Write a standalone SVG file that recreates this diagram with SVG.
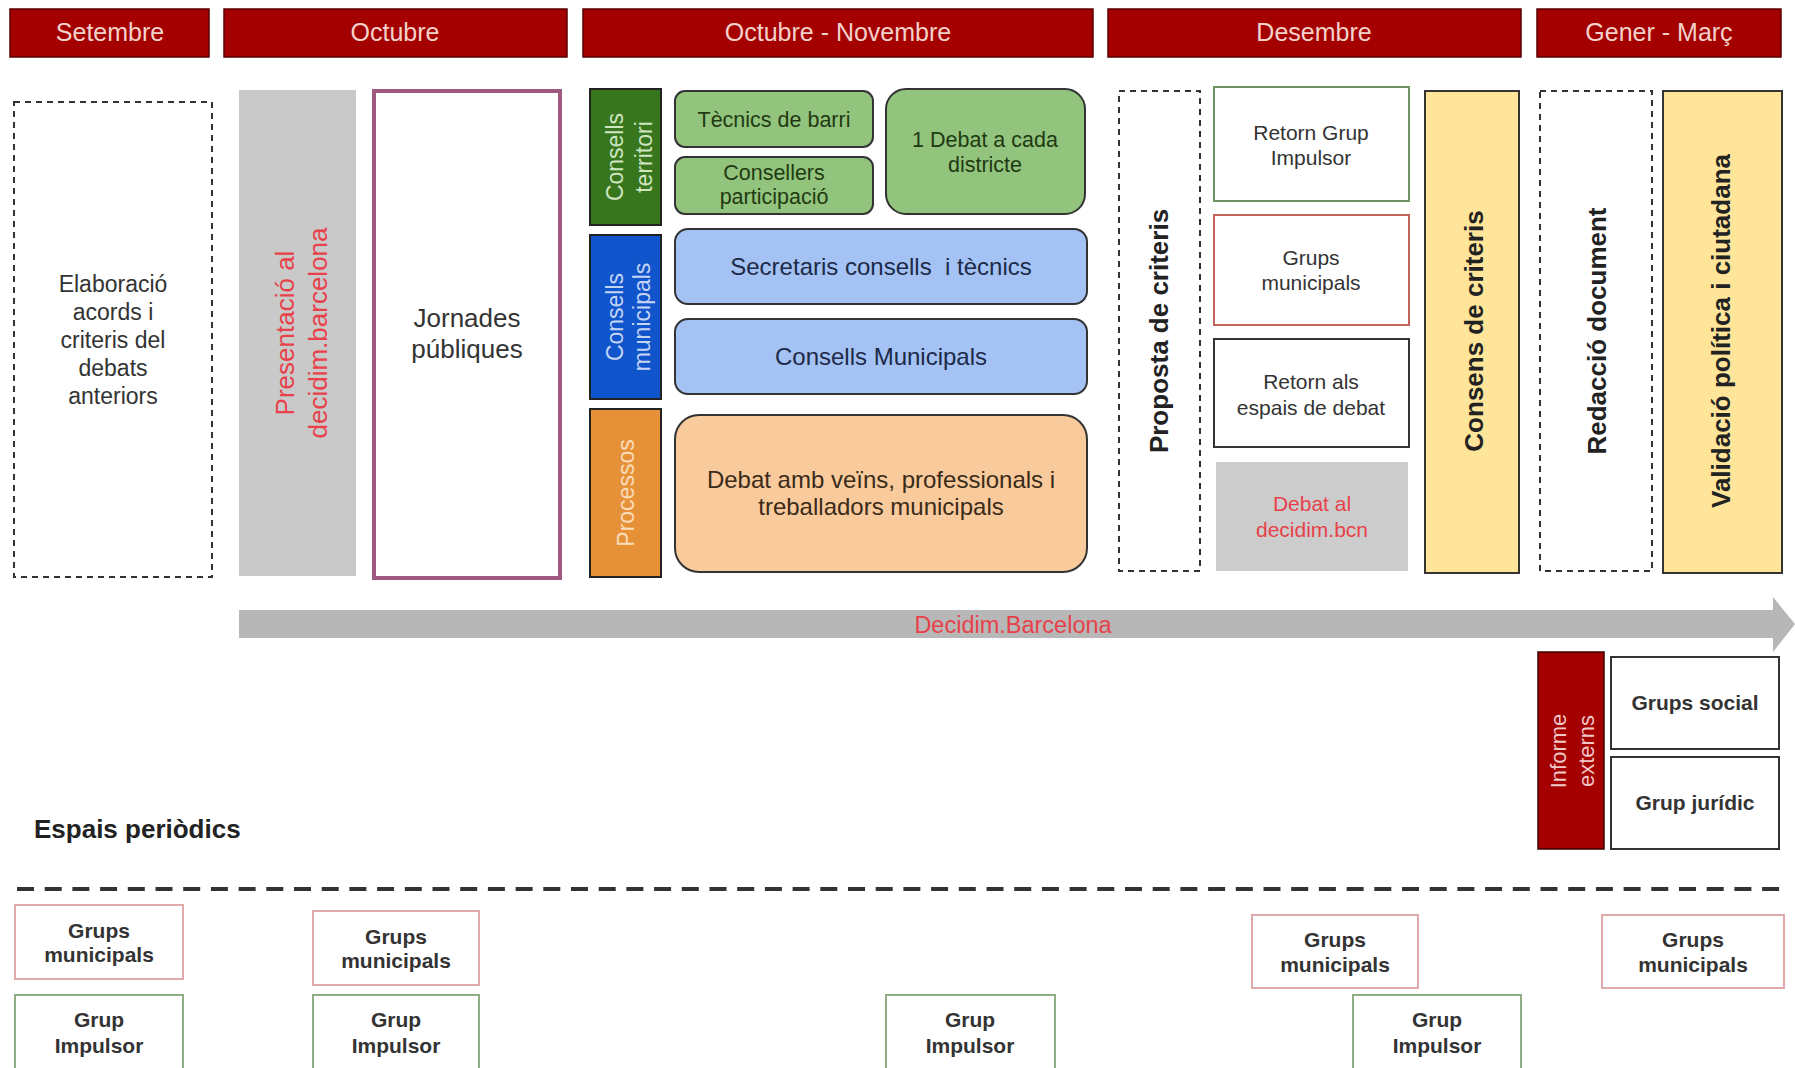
<svg xmlns="http://www.w3.org/2000/svg" width="1795" height="1068" viewBox="0 0 1795 1068">
<defs>
<style>
text{font-family:"Liberation Sans",Arial,Helvetica,sans-serif;text-anchor:middle}
.hdr{fill:#a50000;stroke:#5a0000;stroke-width:1.5}
.hdrt{fill:#f3d2cb;font-size:25px}
.dash{fill:#fff;stroke:#333;stroke-width:2;stroke-dasharray:6 5}
.body{fill:#333;font-size:23px}
.red{fill:#e8414a}
.vb{fill:#222;font-size:26px;font-weight:bold}
.side{stroke:#222;stroke-width:2}
.g{fill:#93c47d;stroke:#333;stroke-width:2}
.gt{fill:#1f3a12;font-size:21.5px}
.b{fill:#a4c2f4;stroke:#333;stroke-width:2}
.bt{fill:#1c2a48;font-size:24px}
.o{fill:#f9cb9c;stroke:#333;stroke-width:2}
.ot{fill:#3a2a1a;font-size:24px}
.yel{fill:#ffe599;stroke:#333;stroke-width:2}
.wt{fill:#333;font-size:21px}
.bold{fill:#333;font-size:21px;font-weight:bold}
.gm{fill:#fff;stroke:#e0aaaa;stroke-width:2}
.gi{fill:#fff;stroke:#8fae86;stroke-width:2}
.blk{fill:#fff;stroke:#333;stroke-width:2}
</style>
</defs>
<rect x="0" y="0" width="1795" height="1068" fill="#fff"/>

<g id="headers">
<g id="h-setembre"><rect class="hdr" x="10" y="9" width="199" height="48"/><text class="hdrt" x="110" y="41">Setembre</text></g>
<g id="h-octubre"><rect class="hdr" x="224" y="9" width="343" height="48"/><text class="hdrt" x="395" y="41">Octubre</text></g>
<g id="h-octnov"><rect class="hdr" x="583" y="9" width="510" height="48"/><text class="hdrt" x="838" y="41">Octubre - Novembre</text></g>
<g id="h-desembre"><rect class="hdr" x="1108" y="9" width="413" height="48"/><text class="hdrt" x="1314" y="41">Desembre</text></g>
<g id="h-gener"><rect class="hdr" x="1537" y="9" width="244" height="48"/><text class="hdrt" x="1659" y="41">Gener - Març</text></g>
</g>

<g id="elaboracio">
<rect class="dash" x="14" y="102" width="198" height="475"/>
<text class="body"><tspan x="113" y="292">Elaboració</tspan><tspan x="113" y="320">acords i</tspan><tspan x="113" y="348">criteris del</tspan><tspan x="113" y="376">debats</tspan><tspan x="113" y="404">anteriors</tspan></text>
</g>

<g id="presentacio">
<rect x="239" y="90" width="117" height="486" fill="#c9c9c9"/>
<text class="red" font-size="26" transform="translate(0,333) rotate(-90)"><tspan x="0" y="294">Presentació al</tspan><tspan x="0" y="327">decidim.barcelona</tspan></text>
</g>

<g id="jornades">
<rect x="374" y="91" width="186" height="487" fill="#fff" stroke="#9e5a80" stroke-width="4"/>
<text fill="#333" font-size="26"><tspan x="467" y="327">Jornades</tspan><tspan x="467" y="358">públiques</tspan></text>
</g>

<g id="consells-territori">
<rect class="side" x="590" y="89" width="71" height="136" fill="#38761d"/>
<text fill="#cfe5c2" font-size="23" transform="translate(0,157) rotate(-90)"><tspan x="0" y="623">Consells</tspan><tspan x="0" y="652">territori</tspan></text>
</g>
<g id="consells-municipals">
<rect class="side" x="590" y="235" width="71" height="164" fill="#1155cc"/>
<text fill="#c4d4f5" font-size="23" transform="translate(0,317) rotate(-90)"><tspan x="0" y="623">Consells</tspan><tspan x="0" y="650">municipals</tspan></text>
</g>
<g id="processos">
<rect class="side" x="590" y="409" width="71" height="168" fill="#e69138"/>
<text fill="#fbdcb8" font-size="23" transform="translate(0,493) rotate(-90)" x="0" y="634">Processos</text>
</g>

<g id="tecnics-barri"><rect class="g" x="675" y="91" width="198" height="56" rx="10"/><text class="gt" x="774" y="127">Tècnics de barri</text></g>
<g id="consellers"><rect class="g" x="675" y="157" width="198" height="57" rx="10"/><text class="gt"><tspan x="774" y="180">Consellers</tspan><tspan x="774" y="204">participació</tspan></text></g>
<g id="debat-districte"><rect class="g" x="886" y="89" width="199" height="125" rx="20"/><text class="gt"><tspan x="985" y="147">1 Debat a cada</tspan><tspan x="985" y="172">districte</tspan></text></g>
<g id="secretaris"><rect class="b" x="675" y="229" width="412" height="75" rx="13"/><text class="bt" x="881" y="275">Secretaris consells &#160;i tècnics</text></g>
<g id="consells-mun"><rect class="b" x="675" y="319" width="412" height="75" rx="13"/><text class="bt" x="881" y="365">Consells Municipals</text></g>
<g id="debat-veins"><rect class="o" x="675" y="415" width="412" height="157" rx="24"/><text class="ot"><tspan x="881" y="488">Debat amb veïns, professionals i</tspan><tspan x="881" y="515">treballadors municipals</tspan></text></g>

<g id="proposta">
<rect class="dash" x="1119" y="91" width="81" height="480"/>
<text class="vb" transform="translate(0,331) rotate(-90)" x="0" y="1168">Proposta de criteris</text>
</g>
<g id="retorn-gi"><rect x="1214" y="87" width="195" height="114" fill="#fff" stroke="#6e9463" stroke-width="2"/><text class="wt"><tspan x="1311" y="140">Retorn Grup</tspan><tspan x="1311" y="165">Impulsor</tspan></text></g>
<g id="grups-mun-des"><rect x="1214" y="215" width="195" height="110" fill="#fff" stroke="#c4625c" stroke-width="2"/><text class="wt"><tspan x="1311" y="265">Grups</tspan><tspan x="1311" y="290">municipals</tspan></text></g>
<g id="retorn-espais"><rect class="blk" x="1214" y="339" width="195" height="108"/><text class="wt"><tspan x="1311" y="389">Retorn als</tspan><tspan x="1311" y="415">espais de debat</tspan></text></g>
<g id="debat-decidim"><rect x="1216" y="462" width="192" height="109" fill="#cccccc"/><text class="red" font-size="21"><tspan x="1312" y="511">Debat al</tspan><tspan x="1312" y="537">decidim.bcn</tspan></text></g>
<g id="consens">
<rect class="yel" x="1425" y="91" width="94" height="482"/>
<text class="vb" transform="translate(0,331) rotate(-90)" x="0" y="1483">Consens de criteris</text>
</g>
<g id="redaccio">
<rect class="dash" x="1540" y="91" width="112" height="480"/>
<text class="vb" transform="translate(0,331) rotate(-90)" x="0" y="1606">Redacció document</text>
</g>
<g id="validacio">
<rect class="yel" x="1663" y="91" width="119" height="482"/>
<text class="vb" transform="translate(0,331) rotate(-90)" x="0" y="1730">Validació política i ciutadana</text>
</g>

<g id="connectors">
<path d="M239 610 H1773 V597 L1795 624 L1773 652 V638 H239 Z" fill="#b7b7b7"/>
<text class="red" font-size="23.5" x="1013" y="633">Decidim.Barcelona</text>
<line x1="17" y1="889" x2="1783" y2="889" stroke="#333" stroke-width="4" stroke-dasharray="17 10.7"/>
</g>

<g id="informe-externs">
<rect x="1538" y="652" width="66" height="197" fill="#a50000" stroke="#3a0000" stroke-width="1.5"/>
<text fill="#f0c8c8" font-size="22" transform="translate(0,751) rotate(-90)"><tspan x="0" y="1566">Informe</tspan><tspan x="0" y="1594">externs</tspan></text>
</g>
<g id="grups-social"><rect class="blk" x="1611" y="657" width="168" height="92"/><text class="bold" x="1695" y="710">Grups social</text></g>
<g id="grup-juridic"><rect class="blk" x="1611" y="757" width="168" height="92"/><text class="bold" x="1695" y="810">Grup jurídic</text></g>

<g id="espais-periodics"><text fill="#222" font-size="26" font-weight="bold" x="34" y="838" style="text-anchor:start">Espais periòdics</text></g>

<g id="gm1"><rect class="gm" x="15" y="905" width="168" height="74"/><text class="bold"><tspan x="99" y="938">Grups</tspan><tspan x="99" y="962">municipals</tspan></text></g>
<g id="gi1"><rect class="gi" x="15" y="995" width="168" height="85"/><text class="bold"><tspan x="99" y="1027">Grup</tspan><tspan x="99" y="1053">Impulsor</tspan></text></g>
<g id="gm2"><rect class="gm" x="313" y="911" width="166" height="74"/><text class="bold"><tspan x="396" y="944">Grups</tspan><tspan x="396" y="968">municipals</tspan></text></g>
<g id="gi2"><rect class="gi" x="313" y="995" width="166" height="85"/><text class="bold"><tspan x="396" y="1027">Grup</tspan><tspan x="396" y="1053">Impulsor</tspan></text></g>
<g id="gi3"><rect class="gi" x="886" y="995" width="169" height="85"/><text class="bold"><tspan x="970" y="1027">Grup</tspan><tspan x="970" y="1053">Impulsor</tspan></text></g>
<g id="gm3"><rect class="gm" x="1252" y="915" width="166" height="73"/><text class="bold"><tspan x="1335" y="947">Grups</tspan><tspan x="1335" y="972">municipals</tspan></text></g>
<g id="gi4"><rect class="gi" x="1353" y="995" width="168" height="85"/><text class="bold"><tspan x="1437" y="1027">Grup</tspan><tspan x="1437" y="1053">Impulsor</tspan></text></g>
<g id="gm4"><rect class="gm" x="1602" y="915" width="182" height="73"/><text class="bold"><tspan x="1693" y="947">Grups</tspan><tspan x="1693" y="972">municipals</tspan></text></g>
</svg>
